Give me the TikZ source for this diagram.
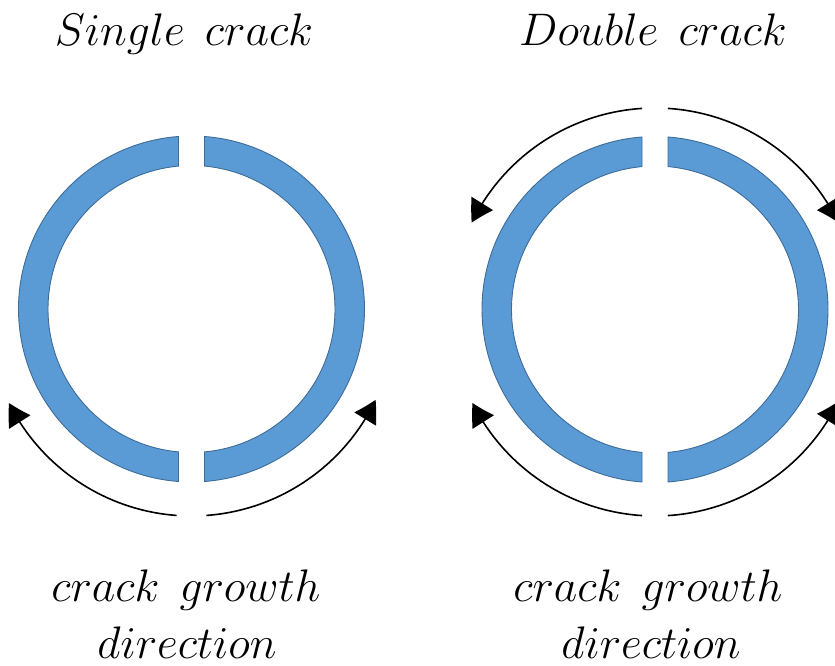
\documentclass[tikz,border=0pt]{standalone}
\usetikzlibrary{arrows.meta,bending}
\definecolor{ringfill}{HTML}{5B9BD5}
\definecolor{ringedge}{HTML}{3E6C99}
\begin{document}
\begin{tikzpicture}[x=1pt,y=1pt,
  ringpart/.style={fill=ringfill,draw=ringedge,line width=0.9pt},
  growarrow/.style={line width=1.6pt,-{Triangle[length=22pt,width=25pt,bend]}},
  lbl/.style={font=\fontsize{20.74}{25}\selectfont,scale=2.2,inner sep=0pt,anchor=base}]
\useasboundingbox (0,0) rectangle (835,666);
\clip (0,0) rectangle (835,666);
\coordinate (L) at (191.5,357);
\coordinate (R) at (655,356.5);
\coordinate (LA) at (191.5,354);
\coordinate (RA) at (655,354);
% rings
\foreach \c in {L,R}{
  \path[ringpart] ([shift={(\c)}]85.69:173) arc[start angle=85.69,end angle=-85.69,radius=173]
    -- ([shift={(\c)}]-84.80:143.5) arc[start angle=-84.80,end angle=84.80,radius=143.5] -- cycle;
  \path[ringpart] ([shift={(\c)}]94.31:173) arc[start angle=94.31,end angle=265.69,radius=173]
    -- ([shift={(\c)}]264.80:143.5) arc[start angle=264.80,end angle=95.20,radius=143.5] -- cycle;
}
% arrows, single crack
\draw[growarrow] ([shift={(LA)}]265.8:204) arc[start angle=265.8,end angle=206.5,radius=204];
\draw[growarrow] ([shift={(LA)}]274.2:204) arc[start angle=274.2,end angle=334.5,radius=204];
% arrows, double crack
\draw[growarrow] ([shift={(RA)}]266.4:204) arc[start angle=266.4,end angle=206.5,radius=204];
\draw[growarrow] ([shift={(RA)}]273.6:204) arc[start angle=273.6,end angle=334,radius=204];
\draw[growarrow] ([shift={(RA)}]93.6:204) arc[start angle=93.6,end angle=154,radius=204];
\draw[growarrow] ([shift={(RA)}]86.4:204) arc[start angle=86.4,end angle=26,radius=204];
% labels
\node[lbl] (t1) at (184,620) {$Single\;\,crack$};
\node[lbl] (t2) at (653,620) {$Double\;\,crack$};
\node[lbl] (b1a) at (186,64) {$crack\;\,growth$};
\node[lbl] (b1b) at (187,7.5) {$direction$};
\node[lbl] (b2a) at (648,64) {$crack\;\,growth$};
\node[lbl] (b2b) at (651,7.5) {$direction$};
\end{tikzpicture}
\end{document}
